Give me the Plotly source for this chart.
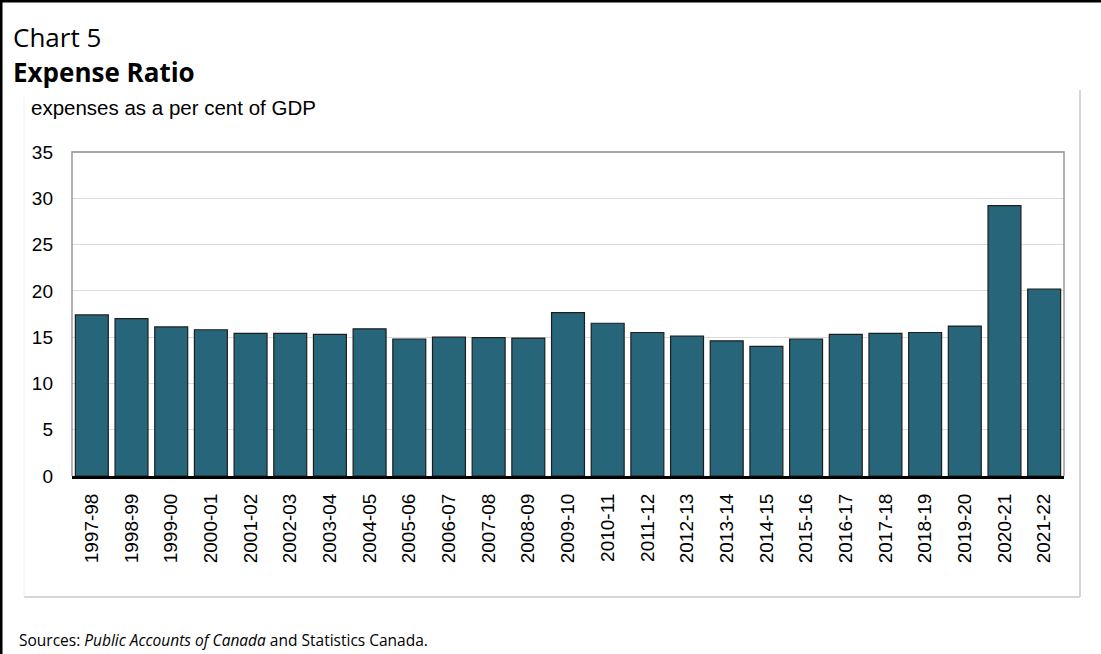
import plotly.graph_objects as go

years = ["1997-98", "1998-99", "1999-00", "2000-01", "2001-02", "2002-03", "2003-04",
         "2004-05", "2005-06", "2006-07", "2007-08", "2008-09", "2009-10", "2010-11",
         "2011-12", "2012-13", "2013-14", "2014-15", "2015-16", "2016-17", "2017-18",
         "2018-19", "2019-20", "2020-21", "2021-22"]
expense_ratio = [17.4, 17.0, 16.1, 15.8, 15.4, 15.4, 15.3, 15.9, 14.8, 15.0, 14.95, 14.9,
                 17.65, 16.5, 15.5, 15.1, 14.6, 14.0, 14.8, 15.3, 15.4, 15.5, 16.2, 29.2, 20.2]
y_ticks = [0, 5, 10, 15, 20, 25, 30, 35]

W, H = 1101, 654
L, R, T, B = 72, 37, 152, 178
PW, PH = W - L - R, H - T - B


def px(p):
    return (p - L) / PW


def py(p):
    return (H - B - p) / PH


fig = go.Figure()
fig.add_trace(go.Bar(
    x=years, y=expense_ratio,
    marker=dict(color="#27667A", line=dict(color="#1e1e1e", width=1.2)),
    hoverinfo="x+y",
))

ann_font = "Open Sans, Noto Sans, sans-serif"
annotations = [
    dict(text="Chart 5", x=px(11), y=py(36.5), xanchor="left", yanchor="middle",
         font=dict(family=ann_font, size=26, color="#000")),
    dict(text="<b>Expense Ratio</b>", x=px(11), y=py(72), xanchor="left", yanchor="middle",
         font=dict(family=ann_font, size=26, color="#000")),
    dict(text="expenses as a per cent of GDP", x=px(29), y=py(107), xanchor="left", yanchor="middle",
         font=dict(family="Liberation Sans, Arial, sans-serif", size=20.5, color="#000")),
    dict(text="Sources: <i>Public Accounts of Canada</i> and Statistics Canada.", x=px(17), y=py(640),
         xanchor="left", yanchor="middle",
         font=dict(family=ann_font, size=15.5, color="#000")),
]
for a in annotations:
    a.update(xref="paper", yref="paper", showarrow=False)

shapes = [
    # outer black border (left & top)
    dict(type="line", x0=px(1), x1=px(1), y0=py(0), y1=py(H), line=dict(color="#000", width=3)),
    dict(type="line", x0=px(0), x1=px(W), y0=py(1), y1=py(1), line=dict(color="#000", width=3)),
    # inner light frame
    dict(type="line", x0=px(1080), x1=px(1080), y0=py(90), y1=py(597), line=dict(color="#c8c8c8", width=1.5)),
    dict(type="line", x0=px(24), x1=px(1080), y0=py(597), y1=py(597), line=dict(color="#c8c8c8", width=1.5)),
    dict(type="line", x0=px(24), x1=px(24), y0=py(97), y1=py(597), line=dict(color="#f0f0f0", width=1)),
    # plot area border (left, top, right)
    dict(type="path", path=f"M {px(L)} {py(H - B)} L {px(L)} {py(T)} L {px(L + PW)} {py(T)} L {px(L + PW)} {py(H - B)}",
         line=dict(color="#8c8c8c", width=1.3)),
]
for s in shapes:
    s.update(xref="paper", yref="paper", layer="above")

fig.update_layout(
    width=W, height=H,
    margin=dict(l=L, r=R, t=T, b=B, pad=0),
    paper_bgcolor="white", plot_bgcolor="white",
    bargap=0.17,
    showlegend=False,
    font=dict(family="Liberation Sans, Arial, sans-serif", size=19, color="#000"),
    annotations=annotations,
    shapes=shapes,
    xaxis=dict(type="category", tickangle=-90, showgrid=False,
               showline=True, linecolor="#000", linewidth=3,
               ticks="", ticklabelstandoff=7,
               tickfont=dict(size=19)),
    yaxis=dict(range=[0, 35], tickvals=y_ticks, showgrid=True, gridcolor="#dcdcdc", gridwidth=1,
               zeroline=False, showline=False, ticks="", ticklabelstandoff=18,
               tickfont=dict(size=19)),
)

fig.write_html("out.html", config={"displayModeBar": False},
               post_script="document.body.style.margin='0';document.body.style.overflow='hidden';")
